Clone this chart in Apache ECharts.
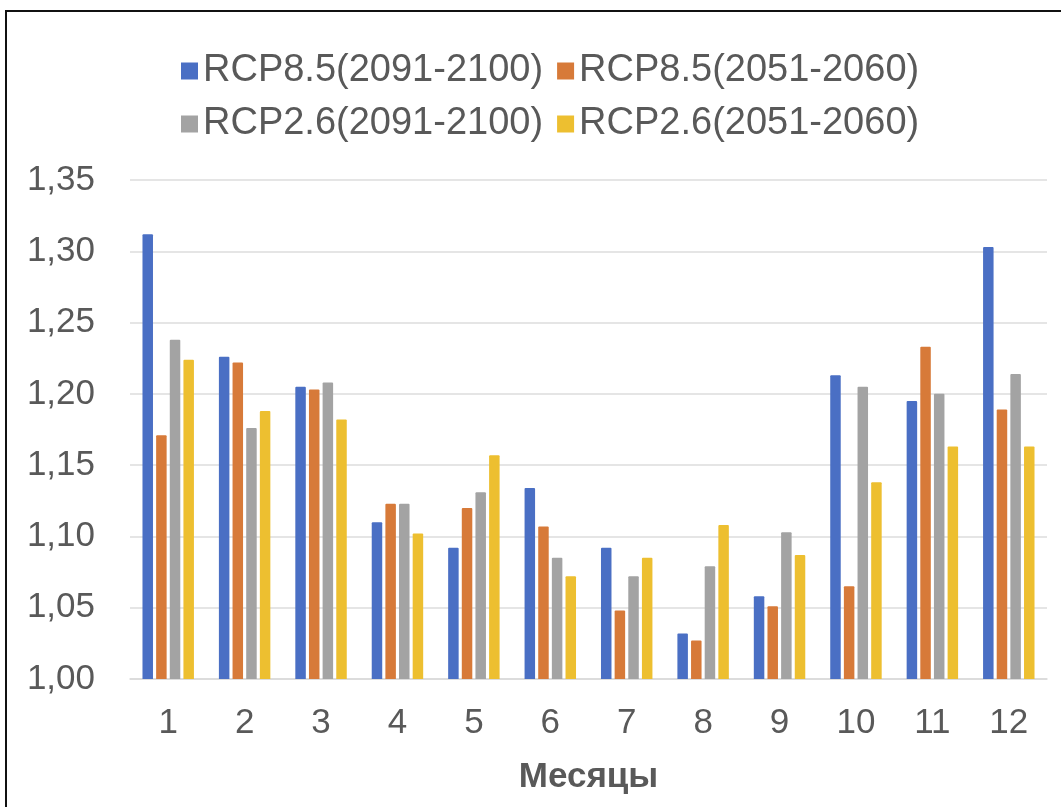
<!DOCTYPE html>
<html>
<head>
<meta charset="utf-8">
<script src="https://cdn.jsdelivr.net/npm/echarts@6/dist/echarts.min.js"></script>
<style>
html,body{margin:0;padding:0;background:#fff;}
#frame{position:absolute;left:5px;top:10px;width:1056px;height:797px;border-top:2px solid #111;border-left:2px solid #111;box-sizing:border-box;}
#chart{position:absolute;left:0;top:0;width:1061px;height:807px;}
</style>
</head>
<body>
<div id="chart"></div>
<div id="frame"></div>
<script>
const months = ['1','2','3','4','5','6','7','8','9','10','11','12'];
const seriesNames = ['RCP8.5(2091-2100)','RCP8.5(2051-2060)','RCP2.6(2091-2100)','RCP2.6(2051-2060)'];
const rcp85_2091 = [1.312,1.226,1.205,1.110,1.092,1.134,1.092,1.032,1.058,1.213,1.195,1.303];
const rcp85_2051 = [1.171,1.222,1.203,1.123,1.120,1.107,1.048,1.027,1.051,1.065,1.233,1.189];
const rcp26_2091 = [1.238,1.176,1.208,1.123,1.131,1.085,1.072,1.079,1.103,1.205,1.200,1.214];
const rcp26_2051 = [1.224,1.188,1.182,1.102,1.157,1.072,1.085,1.108,1.087,1.138,1.163,1.163];
const colors = ['#4A6FC4','#D77A39','#A3A3A3','#EDBF30'];
const yTicks = {min:1.00, max:1.35, interval:0.05};

const chart = echarts.init(document.getElementById('chart'));
const font = 'Liberation Sans, Arial, sans-serif';
const legendCommon = {
  left: 176, orient:'horizontal', itemWidth:17, itemHeight:17, itemGap:14,
  icon:'rect',
  textStyle:{fontFamily:font, fontSize:38, color:'#595959', padding:[0,0,0,0]}
};
chart.setOption({
  animation:false,
  color: colors,
  legend:[
    Object.assign({top:47, data:[seriesNames[0],seriesNames[1]]}, legendCommon),
    Object.assign({top:100, data:[seriesNames[2],seriesNames[3]]}, legendCommon)
  ],
  grid:{left:130, right:14, top:180, bottom:128, containLabel:false},
  xAxis:{
    type:'category', data:months,
    name:'Месяцы', nameLocation:'middle', nameGap:81,
    nameTextStyle:{fontFamily:font, fontSize:35, fontWeight:'bold', color:'#595959'},
    axisLine:{lineStyle:{color:'#d9d9d9', width:1.5}},
    axisTick:{show:false},
    axisLabel:{fontFamily:font, fontSize:35, color:'#595959', margin:27}
  },
  yAxis:{
    type:'value', min:yTicks.min, max:yTicks.max, interval:yTicks.interval,
    axisLine:{show:false}, axisTick:{show:false},
    splitLine:{lineStyle:{color:'#dcdcdc', width:1.5}},
    axisLabel:{fontFamily:font, fontSize:35, color:'#595959', margin:35,
      formatter:v=>v.toFixed(2).replace('.',',')}
  },
  series:[rcp85_2091,rcp85_2051,rcp26_2091,rcp26_2051].map((d,i)=>({
    name:seriesNames[i], type:'bar', data:d, barWidth:10.5, barGap:'30%',
    itemStyle:{color:colors[i], borderRadius:[1,1,0,0]}
  }))
});
</script>
</body>
</html>
